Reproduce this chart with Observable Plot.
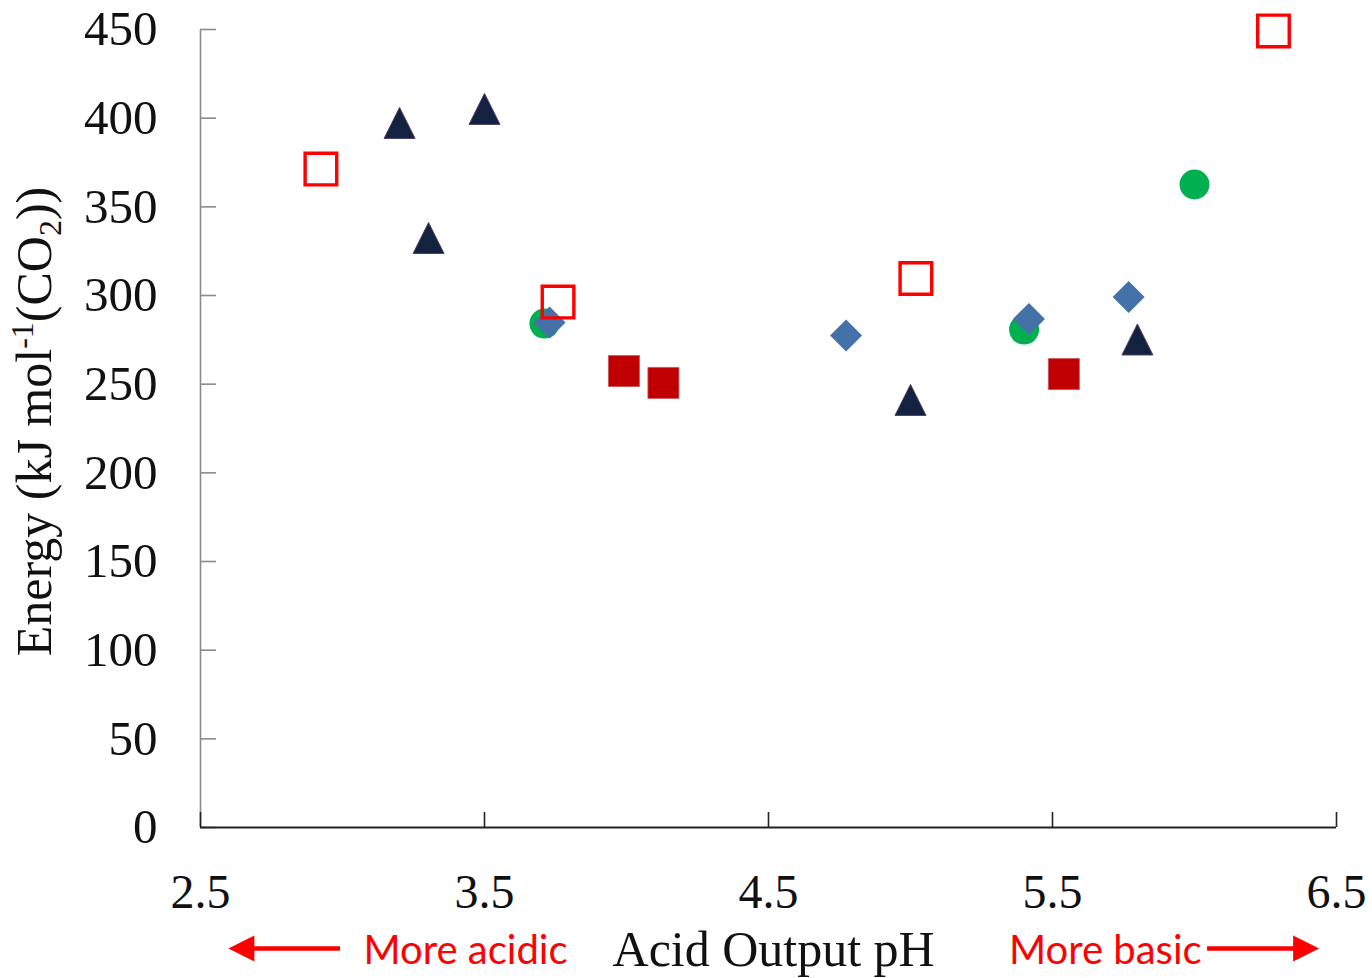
<!DOCTYPE html>
<html><head><meta charset="utf-8">
<script src="https://cdn.jsdelivr.net/npm/d3@7"></script>
<script src="https://cdn.jsdelivr.net/npm/@observablehq/plot@0.6"></script>
<style>html,body{margin:0;padding:0;background:#fff} #chart svg{display:block}</style>
</head><body><div id="chart"></div>
<script>
// ---- data ----
const openSquareX = [2.924, 3.759, 5.019, 6.278];
const openSquareY = [371.3, 296.3, 309.6, 449.2];
const triangleX = [3.201, 3.500, 3.303, 5.000, 5.799];
const triangleY = [397.3, 405.2, 332.4, 241.1, 275.2];
const circleX = [3.711, 5.400, 6.000];
const circleY = [284.2, 280.8, 362.6];
const diamondX = [3.729, 4.773, 5.417, 5.768];
const diamondY = [284.8, 277.4, 286.8, 299.2];
const squareX = [3.991, 4.130, 5.540];
const squareY = [257.4, 250.7, 255.7];
const xTicks = [2.5, 3.5, 4.5, 5.5, 6.5];
const yTicks = [0, 50, 100, 150, 200, 250, 300, 350, 400, 450];
const xTitle = ["Acid Output pH"];
const yTitle = ["Energy (kJ mol-1(CO2))"];
const leftNote = ["More acidic"];
const rightNote = ["More basic"];
const arrowFrom = [2.993, 6.046];
const arrowTo = [2.644, 6.393];
const arrowDir = [180, 0];

const zip = (xs, ys) => xs.map((x, i) => ({x, y: ys[i]}));
const arrows = arrowFrom.map((f, i) => ({from: f, to: arrowTo[i], rot: arrowDir[i]}));

// ---- custom symbols ----
const tri = {draw(c, size) { const s = Math.sqrt(size / Math.PI); c.moveTo(0, -s); c.lineTo(s, s); c.lineTo(-s, s); c.closePath(); }};
const dia = {draw(c, size) { const s = Math.sqrt(size / Math.PI); c.moveTo(0, -s); c.lineTo(s, 0); c.lineTo(0, s); c.lineTo(-s, 0); c.closePath(); }};
const sq = {draw(c, size) { const s = Math.sqrt(size / Math.PI); c.moveTo(-s, -s); c.lineTo(s, -s); c.lineTo(s, s); c.lineTo(-s, s); c.closePath(); }};
const head = {draw(c, size) { const s = Math.sqrt(size / Math.PI); c.moveTo(s, 0); c.lineTo(-s, -s); c.lineTo(-s, s); c.closePath(); }};

const serif = "Liberation Serif, Times New Roman, serif";

const chart = Plot.plot({
  width: 1372,
  height: 978,
  marginLeft: 200,
  marginRight: 36,
  marginTop: 29,
  marginBottom: 151,
  style: {fontFamily: serif, fontSize: "48px", color: "#111", background: "#fff", overflow: "visible"},
  x: {domain: [2.5, 6.5]},
  y: {domain: [0, 450]},
  marks: [
    // axes
    Plot.ruleX([2.5], {y1: 0, y2: 450, stroke: "#8a8a8a", strokeWidth: 1.6}),
    Plot.axisY({ticks: yTicks, tickSize: -16, tickFormat: () => "", label: null, stroke: "#8a8a8a", strokeWidth: 1.6}),
    Plot.axisY({ticks: yTicks, tickSize: 0, tickPadding: 43, label: null, fontSize: 49, fontFamily: serif, fill: "#111"}),
    Plot.ruleY([0], {stroke: "#222", strokeWidth: 2}),
    Plot.axisX({ticks: xTicks, tickSize: -15, tickFormat: () => "", label: null, stroke: "#222", strokeWidth: 1.6}),
    Plot.axisX({ticks: xTicks, tickSize: 0, tickPadding: 46, label: null, fontSize: 48, fontFamily: serif, fill: "#111"}),
    // titles
    Plot.text(yTitle, {frameAnchor: "left", dx: -150, dy: -7, rotate: -90, lineAnchor: "bottom", textAnchor: "middle", fontSize: 50, fontFamily: serif, fill: "#111"}),
    Plot.text(xTitle, {x: 4.518, frameAnchor: "bottom", dy: 138, lineAnchor: "bottom", textAnchor: "middle", fontSize: 50, fontFamily: serif, fill: "#111"}),
    Plot.text(leftNote, {x: 3.074, frameAnchor: "bottom", dy: 136, lineAnchor: "bottom", textAnchor: "start", fontSize: 40, fontFamily: "Lato", fill: "#ff0000"}),
    Plot.text(rightNote, {x: 6.025, frameAnchor: "bottom", dy: 136, lineAnchor: "bottom", textAnchor: "end", fontSize: 40, fontFamily: "Lato", fill: "#ff0000"}),
    // arrows
    Plot.ruleY(arrows, {y: 0, x1: "from", x2: "to", dy: 121, stroke: "#ff0000", strokeWidth: 4.5}),
    Plot.dot(arrows, {x: "to", y: 0, dy: 121, r: 13, symbol: head, rotate: "rot", fill: "#ff0000", stroke: "none"}),
    // series
    Plot.dot(zip(circleX, circleY), {x: "x", y: "y", r: 15, symbol: "circle", fill: "#00b050", stroke: "none"}),
    Plot.dot(zip(diamondX, diamondY), {x: "x", y: "y", r: 16, symbol: dia, fill: "#4472a8", stroke: "none"}),
    Plot.dot(zip(squareX, squareY), {x: "x", y: "y", r: 15.5, symbol: sq, fill: "#c00000", stroke: "#c9505a", strokeWidth: 0.8}),
    Plot.dot(zip(triangleX, triangleY), {x: "x", y: "y", r: 15.5, symbol: tri, fill: "#13223f", stroke: "#4a3f6e", strokeWidth: 1}),
    Plot.dot(zip(openSquareX, openSquareY), {x: "x", y: "y", r: 15.8, symbol: sq, fill: "none", stroke: "#ff0000", strokeWidth: 3.4})
  ]
});

document.getElementById("chart").appendChild(chart);

// superscript / subscript in the y title
d3.select(chart).selectAll("text").filter(function() { return this.textContent === yTitle[0]; }).each(function() {
  const t = d3.select(this);
  t.text(null);
  t.append("tspan").text("Energy (kJ mol");
  t.append("tspan").attr("font-size", 32).attr("dy", -18).text("-1");
  t.append("tspan").attr("dy", 18).text("(CO");
  t.append("tspan").attr("font-size", 32).attr("dy", 10).text("2");
  t.append("tspan").attr("dy", -10).text("))");
});
</script>
</body></html>
